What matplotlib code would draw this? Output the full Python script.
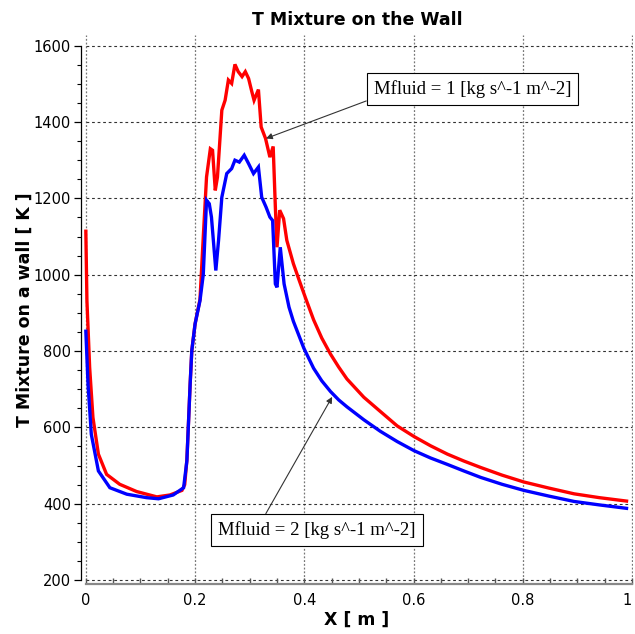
import matplotlib
matplotlib.use("Agg")
import matplotlib.pyplot as plt
from matplotlib.ticker import MultipleLocator

# ---- data ----
x_m1 = [0.000, 0.002, 0.007, 0.013, 0.023, 0.038, 0.062, 0.093, 0.130, 0.154,
        0.176, 0.181, 0.185, 0.191, 0.194, 0.200, 0.209, 0.215, 0.221, 0.228,
        0.232, 0.237, 0.241, 0.249, 0.255, 0.261, 0.267, 0.273, 0.279, 0.286,
        0.292, 0.298, 0.304, 0.308, 0.316, 0.321, 0.329, 0.337, 0.343, 0.347,
        0.350, 0.355, 0.362, 0.368, 0.380, 0.390, 0.402, 0.417, 0.432, 0.448,
        0.463, 0.478, 0.509, 0.539, 0.570, 0.601, 0.631, 0.662, 0.692, 0.723,
        0.762, 0.802, 0.848, 0.894, 0.940, 0.990]
t_m1 = [1114, 932, 757, 626, 530, 477, 451, 432, 418, 423,
        435, 450, 515, 714, 801, 871, 935, 1098, 1256, 1330,
        1326, 1221, 1256, 1431, 1457, 1510, 1501, 1551, 1532, 1519,
        1532, 1514, 1479, 1457, 1485, 1387, 1357, 1308, 1336, 1177,
        1072, 1169, 1147, 1090, 1029, 988, 940, 882, 834, 792,
        758, 727, 679, 642, 604, 576, 552, 530, 512, 495,
        475, 457, 441, 426, 416, 407]

x_m2 = [0.000, 0.004, 0.010, 0.023, 0.044, 0.075, 0.111, 0.133, 0.160, 0.179,
        0.185, 0.191, 0.194, 0.200, 0.209, 0.215, 0.221, 0.226, 0.230, 0.238,
        0.243, 0.249, 0.258, 0.267, 0.273, 0.281, 0.290, 0.298, 0.307, 0.316,
        0.322, 0.330, 0.337, 0.342, 0.347, 0.350, 0.356, 0.363, 0.372, 0.380,
        0.399, 0.417, 0.432, 0.448, 0.463, 0.478, 0.509, 0.539, 0.570, 0.601,
        0.631, 0.662, 0.692, 0.723, 0.762, 0.802, 0.848, 0.894, 0.940, 0.990]
t_m2 = [852, 714, 582, 486, 442, 425, 416, 413, 423, 442,
        512, 714, 801, 871, 932, 1000, 1195, 1186, 1151, 1011,
        1090, 1203, 1265, 1278, 1300, 1295, 1313, 1291, 1265, 1282,
        1203, 1177, 1151, 1142, 976, 967, 1072, 976, 915, 878,
        808, 755, 722, 694, 672, 654, 620, 590, 563, 539,
        520, 503, 486, 469, 451, 435, 420, 406, 397, 388]

title = "T Mixture on the Wall"
xlabel = "X [ m ]"
ylabel = "T Mixture on a wall [ K ]"
label_m1 = "Mfluid = 1 [kg s^-1 m^-2]"
label_m2 = "Mfluid = 2 [kg s^-1 m^-2]"
xticks = [0, 0.2, 0.4, 0.6, 0.8, 1]
xticklabels = ["0", "0.2", "0.4", "0.6", "0.8", "1"]
yticks = [200, 400, 600, 800, 1000, 1200, 1400, 1600]

# ---- figure ----
fig = plt.figure(figsize=(6.35, 6.34), dpi=100)
ax = fig.add_axes([0.127, 0.0784, 0.870, 0.8664])

ax.set_xlim(-0.0095, 1.002)
ax.set_ylim(189, 1628)

# grid
for xv in xticks:
    ax.axvline(xv, color="#777777", lw=0.9, ls=(0, (1.5, 1.5)), zorder=0)
for yv in yticks:
    ax.plot([0, 1], [yv, yv], color="#333333", lw=0.8, ls=(0, (2.5, 2.5)), zorder=0)

ax.plot(x_m1, t_m1, color="#ff0000", lw=2.4, solid_joinstyle="miter", zorder=3)
ax.plot(x_m2, t_m2, color="#0000ff", lw=2.4, solid_joinstyle="miter", zorder=3)

# spines
ax.spines["top"].set_visible(False)
ax.spines["right"].set_visible(False)
ax.spines["left"].set_bounds(200, 1600)
ax.spines["left"].set_color("black")
ax.spines["left"].set_linewidth(0.9)
ax.spines["bottom"].set_bounds(0, 1)
ax.spines["bottom"].set_color("#888888")
ax.spines["bottom"].set_linewidth(1.6)

ax.set_xticks(xticks)
ax.set_xticklabels(xticklabels)
ax.get_xticklabels()[-1].set_horizontalalignment("right")
ax.set_yticks(yticks)
ax.xaxis.set_minor_locator(MultipleLocator(0.05))
ax.yaxis.set_minor_locator(MultipleLocator(50))
ax.tick_params(axis="x", which="both", direction="in", length=4, width=1.0,
               color="#555555", labelsize=10.5, pad=6)
ax.tick_params(axis="y", which="major", direction="out", length=5, width=0.9,
               color="black", labelsize=10.5, pad=2)
ax.tick_params(axis="y", which="minor", direction="out", length=3, width=0.8,
               color="black")

ax.set_title(title, fontsize=12.5, fontweight="bold", pad=7)
ax.set_xlabel(xlabel, fontsize=12.5, fontweight="bold", labelpad=2)
ax.set_ylabel(ylabel, fontsize=12.5, fontweight="bold", labelpad=0)

box = dict(boxstyle="square,pad=0.38", fc="white", ec="black", lw=0.8)
arrow = dict(arrowstyle="-|>", color="#333333", lw=0.8, mutation_scale=9,
             shrinkA=0, shrinkB=0)

ax.annotate(label_m1, xy=(0.330, 1357), xytext=(0.708, 1486),
            ha="center", va="center", fontsize=13.5, family="Liberation Serif",
            bbox=box, arrowprops=dict(arrow, relpos=(0.0, 0.0)), zorder=5)
ax.annotate(label_m2, xy=(0.451, 680), xytext=(0.423, 331),
            ha="center", va="center", fontsize=13.5, family="Liberation Serif",
            bbox=box, arrowprops=dict(arrow, relpos=(0.22, 1.0)), zorder=5)

fig.savefig("out.png", dpi=100)
